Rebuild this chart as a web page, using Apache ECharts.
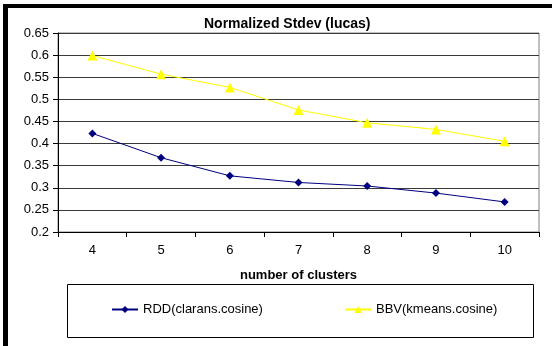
<!DOCTYPE html>
<html>
<head>
<meta charset="utf-8">
<script src="https://cdn.jsdelivr.net/npm/echarts@6/dist/echarts.min.js"></script>
<style>
  html, body { margin: 0; padding: 0; background: #fff; }
  #chart { width: 552px; height: 346px; }
</style>
</head>
<body>
<div id="chart"></div>
<script>
// Cluster counts on the x axis
const clusters = ['4', '5', '6', '7', '8', '9', '10'];
// Normalized standard deviation per clustering method
const rddClarans = [0.423, 0.368, 0.327, 0.312, 0.304, 0.288, 0.268];
const bbvKmeans = [0.599, 0.557, 0.527, 0.476, 0.447, 0.432, 0.405];
const seriesNames = ['RDD(clarans.cosine)', 'BBV(kmeans.cosine)'];

const FONT = '"Liberation Sans", Arial, sans-serif';

const chart = echarts.init(document.getElementById('chart'), null, { renderer: 'canvas' });

chart.setOption({
  animation: false,
  backgroundColor: '#ffffff',
  title: {
    text: 'Normalized Stdev (lucas)',
    left: 204,
    top: 17,
    padding: 0,
    textStyle: { fontFamily: FONT, fontSize: 14, fontWeight: 'bold', color: '#000' }
  },
  grid: {
    left: 58, top: 33, width: 481, height: 199,
    show: true, borderColor: '#808080', borderWidth: 1,
    containLabel: false
  },
  xAxis: {
    type: 'category',
    data: clusters,
    boundaryGap: true,
    name: 'number of clusters',
    nameLocation: 'middle',
    nameGap: 37,
    nameTextStyle: { fontFamily: FONT, fontSize: 13, fontWeight: 'bold', color: '#000' },
    axisLine: { lineStyle: { color: '#000', width: 1 } },
    axisTick: { show: true, inside: false, length: 5, alignWithLabel: false, lineStyle: { color: '#000' } },
    axisLabel: { margin: 12, fontFamily: FONT, fontSize: 13, color: '#000' },
    splitLine: { show: false }
  },
  yAxis: {
    type: 'value',
    min: 0.2,
    max: 0.65,
    interval: 0.05,
    axisLine: { show: true, lineStyle: { color: '#000', width: 1 } },
    axisTick: { show: true, inside: false, length: 5, lineStyle: { color: '#000' } },
    axisLabel: { margin: 9, fontFamily: FONT, fontSize: 13, color: '#000' },
    splitLine: { show: true, lineStyle: { color: '#3a3a3a', width: 1 } }
  },
  legend: [
    {
      data: [seriesNames[0]],
      left: 111, top: 303, padding: 0,
      itemWidth: 26, itemHeight: 9, itemGap: 10,
      textStyle: { fontFamily: FONT, fontSize: 13, color: '#000' }
    },
    {
      data: [seriesNames[1]],
      left: 344, top: 303, padding: 0,
      itemWidth: 26, itemHeight: 9, itemGap: 10,
      textStyle: { fontFamily: FONT, fontSize: 13, color: '#000' }
    }
  ],
  series: [
    {
      name: seriesNames[0],
      type: 'line',
      data: rddClarans,
      symbol: 'diamond',
      symbolSize: 8,
      color: '#000080',
      lineStyle: { color: '#000080', width: 1 },
      itemStyle: { color: '#000080' },
      z: 3
    },
    {
      name: seriesNames[1],
      type: 'line',
      data: bbvKmeans,
      symbol: 'triangle',
      symbolSize: 10,
      color: '#ffff00',
      lineStyle: { color: '#ffff00', width: 1 },
      itemStyle: { color: '#ffff00' },
      z: 3
    }
  ],
  graphic: [
    // outer frame bands along the top and left edges
    { type: 'rect', shape: { x: 3, y: 4, width: 549, height: 4 }, style: { fill: '#000' }, silent: true },
    { type: 'rect', shape: { x: 3, y: 4, width: 5, height: 342 }, style: { fill: '#000' }, silent: true },
    // legend box
    { type: 'rect', shape: { x: 67.5, y: 284.5, width: 466, height: 53 },
      style: { fill: 'none', stroke: '#000', lineWidth: 1 }, silent: true, z: -1 }
  ]
});
</script>
</body>
</html>
